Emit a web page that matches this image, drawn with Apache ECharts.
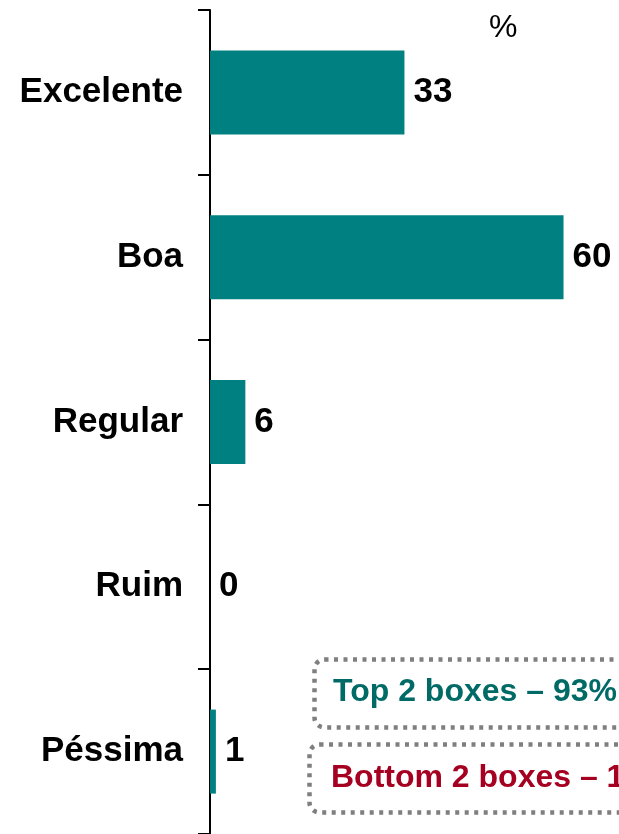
<!DOCTYPE html>
<html><head><meta charset="utf-8">
<script src="https://cdn.jsdelivr.net/npm/echarts@6/dist/echarts.min.js"></script>
<style>html,body{margin:0;padding:0;background:#fff}#c{width:619px;height:834px}</style>
</head><body><div id="c"></div>
<script>
const categories = ['Excelente', 'Boa', 'Regular', 'Ruim', 'Péssima'];
const values = [33, 60, 6, 0, 1];
const unitLabel = '%';
const topBoxText = 'Top 2 boxes – 93%';
const bottomBoxText = 'Bottom 2 boxes – 1%';

const chart = echarts.init(document.getElementById('c'), null, {renderer: 'canvas'});
chart.setOption({
  animation: false,
  backgroundColor: '#ffffff',
  grid: {left: 210, top: 10, width: 383, height: 827, containLabel: false},
  xAxis: {type: 'value', min: 0, max: 65, show: false},
  yAxis: {
    type: 'category', data: categories, inverse: true,
    axisLine: {show: true, lineStyle: {color: '#000', width: 2}},
    axisTick: {show: true, inside: false, length: 12, lineStyle: {color: '#000', width: 2}},
    axisLabel: {margin: 27, fontFamily: 'Liberation Sans', fontWeight: 'bold', fontSize: 35, color: '#000'}
  },
  series: [{
    type: 'bar', data: values, barWidth: 84,
    itemStyle: {color: '#008080'},
    label: {show: true, position: 'right', distance: 9, fontFamily: 'Liberation Sans', fontWeight: 'bold', fontSize: 35, color: '#000'}
  }],
  graphic: [
    {type: 'text', left: 489, top: 12, style: {text: unitLabel, fontFamily: 'Liberation Sans', fontSize: 32, fill: '#000'}},
    {type: 'rect', left: 312, top: 657, shape: {width: 340, height: 68, r: 10},
      style: {fill: 'none', stroke: '#7F7F7F', lineWidth: 4.5, lineDash: [4, 5.5]}},
    {type: 'text', left: 333, top: 676, style: {text: topBoxText, fontFamily: 'Liberation Sans', fontWeight: 'bold', fontSize: 32, fill: '#006B66'}},
    {type: 'rect', left: 307, top: 742, shape: {width: 340, height: 68, r: 10},
      style: {fill: 'none', stroke: '#7F7F7F', lineWidth: 4.5, lineDash: [4, 5.5]}},
    {type: 'text', left: 331, top: 762, style: {text: bottomBoxText, fontFamily: 'Liberation Sans', fontWeight: 'bold', fontSize: 32, fill: '#A50021'}}
  ]
});
</script></body></html>
